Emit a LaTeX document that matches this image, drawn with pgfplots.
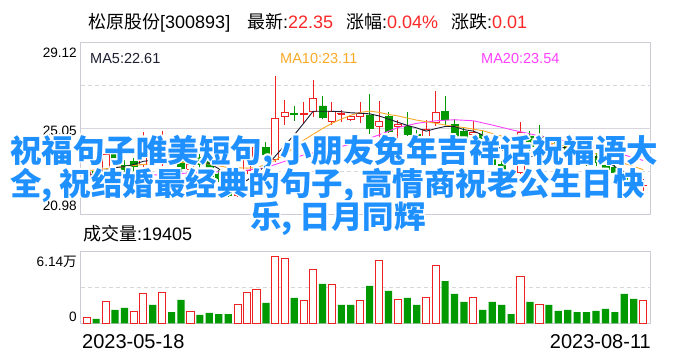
\documentclass[border=0pt]{standalone}
\usepackage{pgfplots}
\pgfplotsset{compat=1.18}
\usepackage{pgfplotstable}
\usepackage{fontspec}
\setmainfont{Liberation Sans}
\newfontfamily\cjk{Noto Sans CJK SC}

\definecolor{upred}{RGB}{238,34,34}
\definecolor{dngreen}{RGB}{0,153,0}
\definecolor{ma5c}{RGB}{30,30,50}
\definecolor{ma10c}{RGB}{250,170,40}
\definecolor{ma20c}{RGB}{255,64,255}
\definecolor{framec}{RGB}{204,204,214}
\definecolor{gridc}{RGB}{214,214,220}
\definecolor{ovblue}{RGB}{30,144,255}
\definecolor{pricered}{RGB}{250,40,40}

% daily candles: index, open, high, low, close
\pgfplotstableread{
x o h l c
1 22.66 23.17 22.52 22.98
2 23.02 23.15 22.75 22.95
3 23.05 23.95 22.90 23.83
4 23.83 24.00 23.20 23.47
5 23.30 23.55 22.95 23.10
6 23.50 23.65 23.05 23.25
7 23.37 24.87 23.10 23.84
8 24.00 24.20 23.30 23.60
9 23.45 24.92 23.30 23.83
10 24.00 24.30 23.70 23.80
11 23.50 23.80 23.00 23.15
12 23.13 23.60 23.00 23.36
13 23.67 23.85 23.20 23.36
14 23.60 23.75 22.60 22.75
15 22.90 23.10 22.50 22.70
16 22.20 22.40 21.80 21.87
17 21.86 22.70 21.80 22.56
18 23.05 23.75 22.90 23.60
19 23.50 24.45 23.40 24.16
20 24.16 24.40 23.60 23.83
21 23.60 27.54 23.45 25.52
22 25.60 26.40 25.24 25.80
23 25.78 26.10 25.40 25.72
24 25.72 26.30 25.30 25.78
25 25.85 27.35 25.60 26.46
26 26.13 26.60 25.50 25.57
27 25.38 26.30 25.20 25.85
28 25.72 25.95 25.35 25.78
29 25.50 25.70 25.40 25.60
30 25.60 26.30 25.30 25.78
31 25.70 26.70 24.80 25.05
32 25.15 26.35 24.60 25.40
33 25.63 25.85 24.85 24.93
34 25.13 25.47 24.55 25.24
35 25.16 25.85 24.70 24.77
36 24.77 25.00 24.30 24.50
37 24.55 25.47 24.30 25.00
38 25.32 26.85 25.16 25.82
39 25.87 26.60 25.20 25.47
40 25.24 25.50 24.55 24.70
41 24.93 25.10 24.30 24.40
42 24.77 25.40 24.30 24.85
43 24.77 25.00 24.20 24.46
44 24.07 24.25 23.30 23.37
45 23.37 23.50 22.60 22.90
46 22.78 23.13 22.55 22.72
47 22.98 25.35 22.90 24.85
48 24.70 24.95 24.00 24.23
49 24.70 25.24 23.83 24.55
50 24.15 24.60 24.05 24.30
51 24.46 24.77 24.00 24.23
52 24.23 24.40 23.60 24.00
53 24.07 24.20 23.70 23.84
54 23.84 24.00 23.30 23.68
55 23.73 23.90 23.30 23.45
56 23.29 23.55 23.05 23.13
57 23.20 23.35 22.90 22.98
58 22.84 23.05 22.30 22.53
59 22.40 22.66 22.20 22.34
60 22.34 22.65 22.10 22.35
}\candles

% moving averages
\pgfplotstableread{
x v
1 22.81
2 22.95
3 23.10
4 23.20
5 23.25
6 23.35
7 23.50
8 23.55
9 23.60
10 23.60
11 23.58
12 23.55
13 23.48
14 23.40
15 23.15
16 22.70
17 22.50
18 22.60
19 22.95
20 23.30
21 23.75
22 24.25
23 24.75
24 25.30
25 25.87
26 25.87
27 25.87
28 25.85
29 25.80
30 25.78
31 25.75
32 25.65
33 25.50
34 25.35
35 25.20
36 25.08
37 24.93
38 25.05
39 25.15
40 25.15
41 25.00
42 24.93
43 24.75
44 24.40
45 24.07
46 23.75
47 23.62
48 23.70
49 23.85
50 24.10
51 24.15
52 24.15
53 24.00
54 23.85
55 23.70
56 23.50
57 23.25
58 23.00
59 22.80
60 22.61
}\mafive

\pgfplotstableread{
x v
1 23.05
3 23.15
5 23.25
7 23.35
9 23.42
11 23.45
13 23.42
14 23.37
16 23.20
18 23.18
19 23.20
20 23.35
21 23.55
22 23.85
23 24.15
24 24.50
25 24.78
26 25.05
27 25.30
28 25.50
29 25.68
30 25.82
31 25.88
32 25.82
33 25.72
34 25.65
35 25.55
36 25.45
37 25.38
38 25.30
39 25.22
40 25.15
41 25.10
42 25.02
43 24.95
44 24.82
45 24.70
46 24.50
47 24.40
48 24.36
49 24.36
50 24.38
51 24.30
52 24.20
53 24.08
54 23.98
55 23.85
56 23.70
57 23.55
58 23.40
59 23.25
60 23.11
}\maten

\pgfplotstableread{
x v
1 22.78
4 22.80
8 22.85
12 22.95
16 23.02
18 23.08
20 23.20
22 23.50
24 23.80
26 24.00
28 24.20
30 24.45
32 24.75
34 25.10
36 25.30
38 25.42
40 25.47
42 25.42
44 25.22
46 25.00
48 24.80
50 24.60
52 24.45
54 24.25
56 24.05
57 23.93
58 23.80
59 23.67
60 23.54
}\matwenty

% volume, up days and down days
\pgfplotstableread{
x v
1 5100
3 18700
6 10200
7 25500
9 26300
12 10200
17 16100
18 26300
19 28900
21 56900
22 55200
24 19500
25 45800
27 33100
30 19500
32 53500
34 20400
37 21500
38 49200
42 21500
47 39900
49 15600
60 19405
}\volup

\pgfplotstableread{
x v
2 3700
4 11300
5 13000
8 15600
10 9600
11 19800
13 7100
14 8800
15 7900
16 7900
20 17300
23 21500
26 33400
28 15600
29 15600
31 31700
33 27500
35 21500
36 15600
39 35900
40 24900
41 18100
43 11300
44 18100
45 15600
46 7900
48 18100
50 15600
51 10500
52 11300
53 9600
54 9600
55 10500
56 12200
57 9600
58 24900
59 20700
}\voldown

\pgfplotsset{
  upw/.style={upred, line width=1pt, mark=none, forget plot},
  dnw/.style={dngreen, line width=1pt, mark=none, forget plot},
  upc/.style={draw=upred, fill=white, line width=1pt, mark=none, forget plot},
  dnc/.style={draw=dngreen, fill=dngreen, line width=0.6pt, mark=none, forget plot},
}

\newcommand{\halo}[3]{%
  \foreach \dx/\dy in {-1.6/0,1.6/0,0/-1.6,0/1.6,-1.15/-1.15,1.15/1.15,-1.15/1.15,1.15/-1.15}{%
    \node[anchor=base west, inner sep=0pt, text=white] at (#1+\dx,#2+\dy) {#3};}%
  \node[anchor=base west, inner sep=0pt, text=ovblue] at (#1,#2) {#3};}

\begin{document}
\begin{tikzpicture}[x=1pt,y=1pt]
\useasboundingbox (0,0) rectangle (688,360);
\fill[white] (0,0) rectangle (688,360);

% header
\begin{scope}[every node/.style={anchor=base west, inner sep=0pt, font=\fontsize{18}{20}\selectfont}]
\node at (88,332) {{\cjk 松原股份}[300893]};
\node at (247,332) {{\cjk 最新}:\textcolor{pricered}{22.35}};
\node at (346,332) {{\cjk 涨幅}:\textcolor{pricered}{0.04\%}};
\node at (451,332) {{\cjk 涨跌}:\textcolor{pricered}{0.01}};
\node at (83,120) {{\cjk 成交量}:19405};
\end{scope}

% price panel
\begin{axis}[
  at={(80.5pt,145.5pt)}, anchor=south west,
  width=570.2pt, height=171.8pt, scale only axis,
  xmin=0.34, xmax=60.8, ymin=20.98, ymax=29.12,
  xtick=\empty, ytick=\empty,
  axis line style={draw=framec, line width=1pt},
]
\draw[gridc, line width=0.8pt, dash pattern=on 4pt off 3pt] (rel axis cs:0,0.75) -- (rel axis cs:1,0.75);
\draw[gridc, line width=0.8pt] (rel axis cs:0,0.5) -- (rel axis cs:1,0.5);
\draw[gridc, line width=0.8pt, dash pattern=on 4pt off 3pt] (rel axis cs:0,0.25) -- (rel axis cs:1,0.25);

\pgfplotsforeachungrouped \r in {0,...,59}{%
  \pgfplotstablegetelem{\r}{x}\of\candles \let\cx\pgfplotsretval
  \pgfplotstablegetelem{\r}{o}\of\candles \let\co\pgfplotsretval
  \pgfplotstablegetelem{\r}{h}\of\candles \let\ch\pgfplotsretval
  \pgfplotstablegetelem{\r}{l}\of\candles \let\cl\pgfplotsretval
  \pgfplotstablegetelem{\r}{c}\of\candles \let\cc\pgfplotsretval
  \pgfmathsetmacro\xa{\cx-0.37}%
  \pgfmathsetmacro\xb{\cx+0.37}%
  \pgfmathtruncatemacro\isup{\cc>=\co}%
  \ifnum\isup=1 \def\cst{upc}\def\wst{upw}\else\def\cst{dnc}\def\wst{dnw}\fi
  \edef\doplot{%
    \noexpand\addplot[\wst] coordinates {(\cx,\cl) (\cx,\ch)};
    \noexpand\addplot[\cst] coordinates {(\xa,\co) (\xb,\co) (\xb,\cc) (\xa,\cc) (\xa,\co)};
  }\doplot
}

\addplot[ma20c, line width=0.9pt, mark=none] table[x=x,y=v] {\matwenty};
\addplot[ma10c, line width=0.9pt, mark=none] table[x=x,y=v] {\maten};
\addplot[ma5c, line width=0.9pt, mark=none] table[x=x,y=v] {\mafive};
\end{axis}

% volume panel
\begin{axis}[
  at={(80.5pt,36.7pt)}, anchor=south west,
  width=570.2pt, height=72.3pt, scale only axis,
  xmin=0.34, xmax=60.8, ymin=0, ymax=61400,
  xtick=\empty, ytick=\empty,
  axis line style={draw=framec, line width=1pt},
  ybar, bar width=0.76, bar shift=0pt,
]
\draw[gridc, line width=0.8pt, dash pattern=on 4pt off 3pt] (rel axis cs:0,0.5) -- (rel axis cs:1,0.5);
\addplot[draw=upred, fill=white, line width=1pt] table[x=x,y=v] {\volup};
\addplot[draw=none, fill=dngreen] table[x=x,y=v] {\voldown};
\end{axis}

% axis values
\begin{scope}[every node/.style={anchor=base east, inner sep=0pt, font=\fontsize{13.6}{15}\selectfont}]
\node at (77,303) {29.12};
\node at (77,225) {25.05};
\node at (77,150) {20.98};
\node at (77,94) {6.14{\cjk 万}};
\node at (77,39) {0};
\end{scope}
\begin{scope}[every node/.style={inner sep=0pt, font=\fontsize{20}{22}\selectfont}]
\node[anchor=base west] at (82,12) {2023-05-18};
\node[anchor=base east] at (651,12) {2023-08-11};
\end{scope}

% moving average labels
\begin{scope}[every node/.style={anchor=base west, inner sep=0pt, font=\fontsize{14.5}{16}\selectfont}]
\node[text=ma5c] at (90,297) {MA5:22.61};
\node[text=ma10c] at (280,297) {MA10:23.11};
\node[text=ma20c] at (481,297) {MA20:23.54};
\end{scope}

% caption over the chart
\begin{scope}[font=\cjk\bfseries\fontsize{31.5}{33}\selectfont]
\halo{10}{198}{祝福句子唯美短句,\hspace{7pt}小朋友兔年吉祥话祝福语大}
\halo{10}{165}{全,\hspace{7pt}祝结婚最经典的句子,\hspace{7pt}高情商祝老公生日快}
\halo{250}{132}{乐,\hspace{7pt}日月同辉}
\end{scope}
\end{tikzpicture}
\end{document}
